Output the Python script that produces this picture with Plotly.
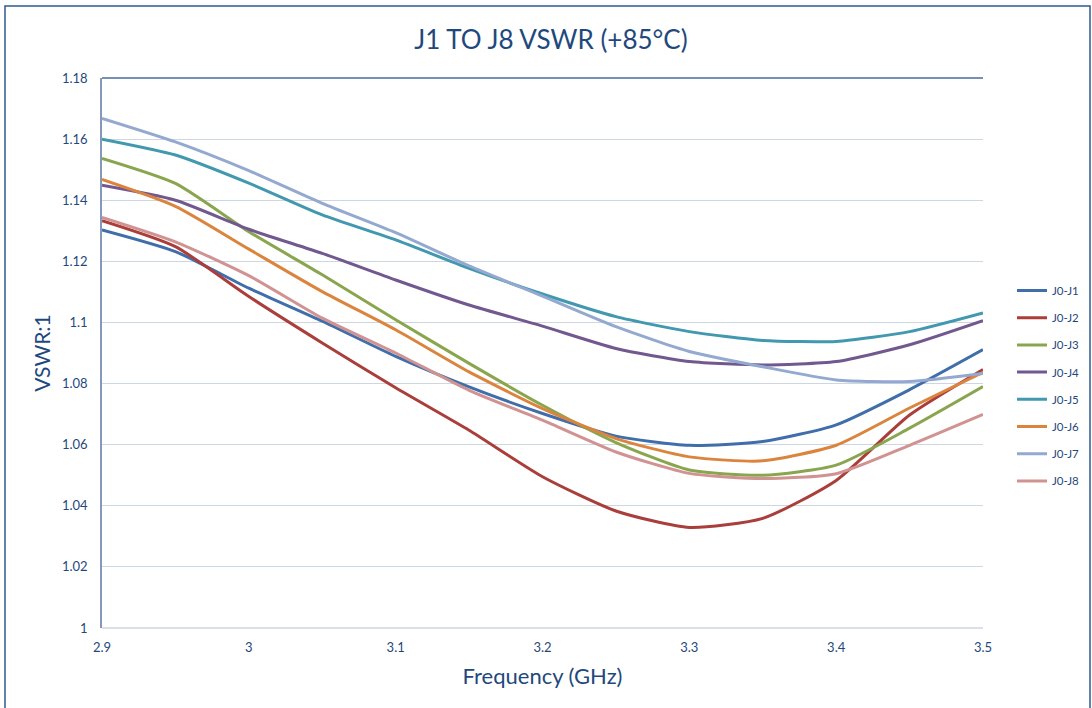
import plotly.graph_objects as go

freq = [2.9, 2.95, 3.0, 3.05, 3.1, 3.15, 3.2, 3.25, 3.3, 3.35, 3.4, 3.45, 3.5]

j1 = [1.1303, 1.1232, 1.1112, 1.1004, 1.0889, 1.0789, 1.0702, 1.0628, 1.0598, 1.0610, 1.0665, 1.0780, 1.0911]
j2 = [1.1333, 1.1248, 1.1085, 1.0933, 1.0786, 1.0647, 1.0495, 1.0383, 1.0329, 1.0359, 1.0483, 1.0697, 1.0846]
j3 = [1.1537, 1.1455, 1.1297, 1.1156, 1.1009, 1.0866, 1.0729, 1.0607, 1.0517, 1.0500, 1.0533, 1.0654, 1.0790]
j4 = [1.1449, 1.1400, 1.1305, 1.1226, 1.1139, 1.1057, 1.0988, 1.0915, 1.0872, 1.0861, 1.0872, 1.0927, 1.1006]
j5 = [1.1600, 1.1548, 1.1456, 1.1352, 1.1270, 1.1177, 1.1093, 1.1019, 1.0970, 1.0941, 1.0938, 1.0970, 1.1031]
j6 = [1.1468, 1.1380, 1.1240, 1.1101, 1.0976, 1.0838, 1.0718, 1.0620, 1.0560, 1.0547, 1.0598, 1.0720, 1.0837]
j7 = [1.1668, 1.1591, 1.1497, 1.1390, 1.1294, 1.1185, 1.1086, 1.0986, 1.0905, 1.0855, 1.0812, 1.0807, 1.0833]
j8 = [1.1344, 1.1264, 1.1153, 1.1014, 1.0900, 1.0778, 1.0680, 1.0576, 1.0506, 1.0489, 1.0505, 1.0598, 1.0699]

names = ["J0-J1", "J0-J2", "J0-J3", "J0-J4", "J0-J5", "J0-J6", "J0-J7", "J0-J8"]
series = [j1, j2, j3, j4, j5, j6, j7, j8]
colors = ["#3F6EAA", "#AA3E3B", "#89A54E", "#71588F", "#4198AF", "#DB843D", "#93A9CF", "#D19392"]

y_ticks = [1.0, 1.02, 1.04, 1.06, 1.08, 1.1, 1.12, 1.14, 1.16, 1.18]
y_labels = ["1", "1.02", "1.04", "1.06", "1.08", "1.1", "1.12", "1.14", "1.16", "1.18"]
x_ticks = [2.9, 3.0, 3.1, 3.2, 3.3, 3.4, 3.5]
x_labels = ["2.9", "3", "3.1", "3.2", "3.3", "3.4", "3.5"]

text_color = "#1F497D"
font_family = "Lato, Open Sans, sans-serif"

W, H = 1092, 708
L, R, T, B = 102, 109, 78, 80
pw, ph = W - L - R, H - T - B
legend_top, legend_step = 276, 27.2

fig = go.Figure()
legend_layouts = {}
for i, (name, ys, c) in enumerate(zip(names, series, colors)):
    key = f"legend{i + 2}"
    fig.add_trace(go.Scatter(
        x=freq, y=ys, name=name, mode="lines", legend=key, showlegend=True,
        line=dict(color=c, width=3, shape="spline", smoothing=0.6),
    ))
    legend_layouts[key] = dict(
        x=(1012 - L) / pw, xanchor="left",
        y=1 - (legend_top + i * legend_step - T) / ph, yanchor="top",
        font=dict(size=11.5, color=text_color), bgcolor="rgba(0,0,0,0)",
    )

fig.update_layout(
    width=W, height=H, showlegend=True,
    margin=dict(l=L, r=R, t=T, b=B, autoexpand=False),
    paper_bgcolor="white", plot_bgcolor="white",
    font=dict(family=font_family, color=text_color, size=13),
    title=dict(text="J1 TO J8 VSWR (+85°C)", x=551 / W, xanchor="center",
               y=1 - 40 / H, yanchor="middle",
               font=dict(size=26, color=text_color, family=font_family)),
    xaxis=dict(range=[2.9, 3.5], tickvals=x_ticks, ticktext=x_labels,
               showgrid=False, zeroline=False, showline=False,
               ticks="", ticklabelstandoff=10, tickfont=dict(size=13, color=text_color),
               title=dict(text="Frequency (GHz)", font=dict(size=22, color=text_color), standoff=14)),
    yaxis=dict(range=[1.0, 1.18], tickvals=y_ticks, ticktext=y_labels,
               showgrid=True, gridcolor="#CDD6E3", gridwidth=1,
               zeroline=False, showline=True, linecolor="#8398BA", linewidth=1.5,
               ticks="", ticklabelstandoff=10, tickfont=dict(size=13, color=text_color),
               title=dict(text="VSWR:1", font=dict(size=21, color=text_color), standoff=6)),
    shapes=[
        dict(type="line", xref="paper", yref="paper", x0=0, x1=1, y0=1, y1=1,
             line=dict(color="#4A6A9C", width=1.5), layer="above"),
        dict(type="line", xref="paper", yref="paper", x0=0, x1=1, y0=0, y1=0,
             line=dict(color="#CDD6E3", width=1.5), layer="below"),
        dict(type="rect", xref="paper", yref="paper",
             x0=(5 - L) / pw, x1=(1090 - L) / pw, y0=-(H - ph - T + 10) / ph, y1=1 + (T - 6) / ph,
             line=dict(color="#2E5B8E", width=1.5), fillcolor="rgba(0,0,0,0)", layer="below"),
    ],
)
fig.update_layout(**legend_layouts)

fig.write_html("out.html", config={"displayModeBar": False},
               post_script="document.body.style.margin='0';")
